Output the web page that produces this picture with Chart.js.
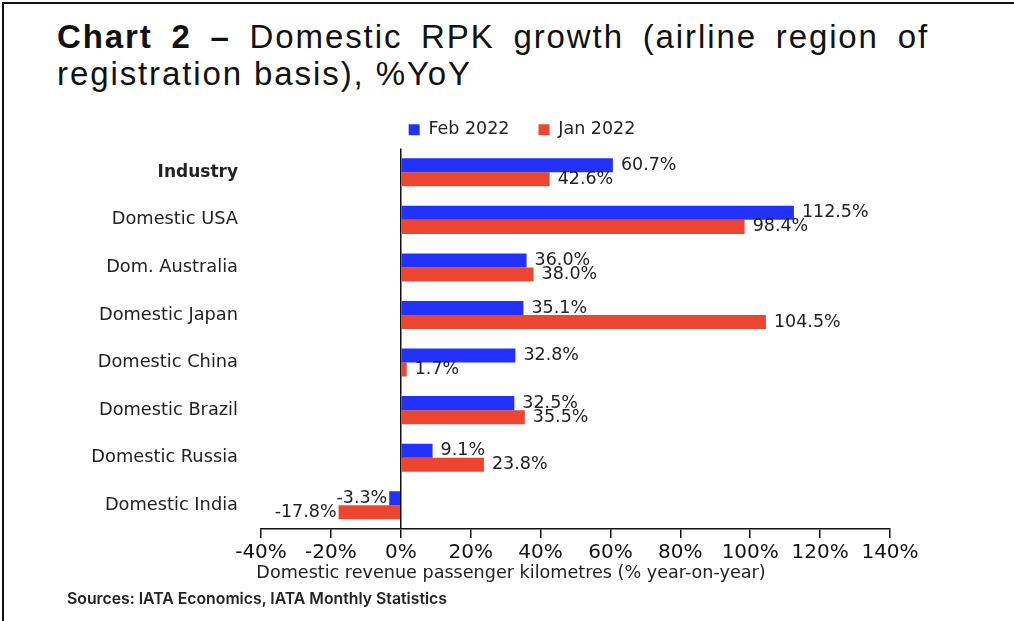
<!DOCTYPE html>
<html>
<head>
<meta charset="utf-8">
<script src="https://cdn.jsdelivr.net/npm/chart.js@4.4.1/dist/chart.umd.min.js"></script>
<style>
  html, body { margin: 0; padding: 0; background: #fff; }
  body { width: 1014px; height: 621px; position: relative; overflow: hidden; }
  .frame { position: absolute; left: 2px; top: 2px; right: 0; bottom: 0; border-top: 2px solid #111; border-left: 2px solid #111; }
  .title {
    position: absolute; left: 57px; top: 18px; width: 872px;
    font-family: "Liberation Sans", Arial, sans-serif; font-size: 33px; line-height: 37px;
    color: #111; letter-spacing: 1.9px;
  }
  .title .l1 { display: block; text-align: justify; text-align-last: justify; white-space: nowrap; }
  .title .l2 { display: block; text-align: left; }
  .sources {
    position: absolute; left: 67px; top: 589px;
    font-family: Inter, "Liberation Sans", sans-serif; font-size: 15.8px; font-weight: 600; color: #222;
  }
  #wrap { position: absolute; left: 0; top: 0; width: 1014px; height: 621px; }
</style>
</head>
<body>
<div class="frame"></div>
<div class="title"><span class="l1"><b>Chart 2 –</b> Domestic RPK growth (airline region of</span><span class="l2">registration basis), %YoY</span></div>
<div id="wrap"><canvas id="chart"></canvas></div>
<div class="sources">Sources: IATA Economics, IATA Monthly Statistics</div>
<script>
// chart data
const categories = ['Industry', 'Domestic USA', 'Dom. Australia', 'Domestic Japan', 'Domestic China', 'Domestic Brazil', 'Domestic Russia', 'Domestic India'];
const feb2022 = [60.7, 112.5, 36.0, 35.1, 32.8, 32.5, 9.1, -3.3];
const jan2022 = [42.6, 98.4, 38.0, 104.5, 1.7, 35.5, 23.8, -17.8];
const xTicks = [-40, -20, 0, 20, 40, 60, 80, 100, 120, 140];
const axisTitle = 'Domestic revenue passenger kilometres (% year-on-year)';

const FONT = '"DejaVu Sans", Verdana, sans-serif';

// value labels next to each bar end
const barLabels = {
  id: 'barLabels',
  afterDatasetsDraw(chart) {
    const ctx = chart.ctx;
    ctx.save();
    ctx.font = '17.5px ' + FONT;
    ctx.fillStyle = '#222';
    ctx.textBaseline = 'middle';
    chart.data.datasets.forEach((ds, i) => {
      chart.getDatasetMeta(i).data.forEach((bar, j) => {
        const v = ds.data[j];
        const txt = v.toFixed(1) + '%';
        if (v < 0) {
          ctx.textAlign = 'right';
          ctx.fillText(txt, bar.x - 2, bar.y);
        } else {
          ctx.textAlign = 'left';
          ctx.fillText(txt, bar.x + 8, bar.y);
        }
      });
    });
    ctx.restore();
  }
};

// legend and axis title sit a bit left of the plot centre in the original
const shiftBoxes = {
  id: 'shiftBoxes',
  afterLayout(chart) {
    const move = (box, centre) => {
      if (!box) return;
      const d = centre - (box.left + box.right) / 2;
      box.left += d;
      box.right += d;
    };
    move(chart.legend, 522);
    move(chart.boxes.find(b => b.options && b.options.text === axisTitle), 511);
  }
};

new Chart(document.getElementById('chart'), {
  type: 'bar',
  data: {
    labels: categories,
    datasets: [
      { label: 'Feb 2022', data: feb2022, backgroundColor: '#2332fa', categoryPercentage: 0.59, barPercentage: 1.0 },
      { label: 'Jan 2022', data: jan2022, backgroundColor: '#ec4632', categoryPercentage: 0.59, barPercentage: 1.0 }
    ]
  },
  options: {
    indexAxis: 'y',
    responsive: true,
    maintainAspectRatio: false,
    animation: false,
    layout: { padding: { left: 60, right: 124, top: 92, bottom: 39 } },
    plugins: {
      legend: {
        position: 'top',
        labels: { boxWidth: 11, boxHeight: 11, padding: 29, color: '#222', font: { family: FONT, size: 17.5 } }
      },
      subtitle: {
        display: true,
        position: 'bottom',
        text: axisTitle,
        color: '#222',
        font: { family: FONT, size: 17.6, lineHeight: 1.02 },
        padding: { top: -4, bottom: 0 }
      },
      tooltip: { enabled: false }
    },
    scales: {
      x: {
        min: -40,
        max: 140,
        afterBuildTicks: (s) => { s.ticks = xTicks.map(v => ({ value: v })); },
        ticks: { callback: (v) => v + '%', color: '#111', font: { family: FONT, size: 20 }, padding: 3, maxRotation: 0 },
        grid: {
          color: (c) => (c.tick && c.tick.value === 0 ? '#111' : 'rgba(0,0,0,0)'),
          lineWidth: 1.5,
          tickColor: '#111',
          tickLength: 9
        },
        border: { display: true, color: '#111', width: 1.5 }
      },
      y: {
        afterFit: (s) => { s.width = 201; },
        grid: { display: false },
        border: { display: false },
        ticks: {
          color: '#222',
          padding: 15,
          font: (c) => ({ family: FONT, size: c.index === 0 ? 17 : 17.8, weight: c.index === 0 ? 'bold' : 'normal' })
        }
      }
    }
  },
  plugins: [barLabels, shiftBoxes]
});
</script>
</body>
</html>
